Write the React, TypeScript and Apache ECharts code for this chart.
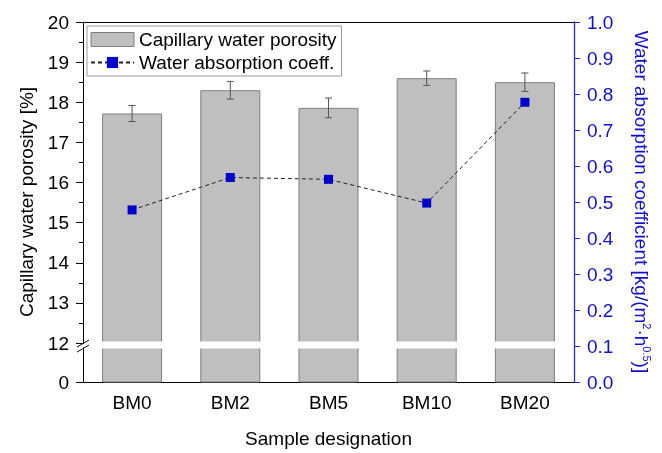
import React, { useEffect, useRef } from "react";
import * as echarts from "echarts";

const categories = ["BM0", "BM2", "BM5", "BM10", "BM20"];
const porosity = [17.72, 18.3, 17.86, 18.6, 18.5];
const porosityErr = [0.2, 0.22, 0.245, 0.18, 0.23];
const absorption = [0.478, 0.568, 0.563, 0.497, 0.777];
const leftTicks = [12, 13, 14, 15, 16, 17, 18, 19, 20];
const leftMinorTicks = [12.5, 13.5, 14.5, 15.5, 16.5, 17.5, 18.5, 19.5];

// Broken left axis: the 0..12 segment is compressed below the break
const BREAK_AT = 12;
const BREAK_SPAN = 0.97; // axis units that the 0..12 segment occupies
const LEFT_MIN = BREAK_AT - BREAK_SPAN;
const LEFT_MAX = 20;

const FONT = "'Liberation Sans', Arial, sans-serif";
const BLUE = "#1010c8";
const FS = 19;

export default function App() {
  const ref = useRef<HTMLDivElement>(null);
  useEffect(() => {
    if (!ref.current) return;
    const chart = echarts.init(ref.current, undefined, { renderer: "svg" });
    const majorVals = [LEFT_MIN, ...leftTicks];
    const option: any = {
      animation: false,
      textStyle: { fontFamily: FONT },
      grid: { left: 83, right: 88, top: 22, bottom: 68 },
      legend: {
        left: 87,
        top: 26,
        orient: "vertical",
        itemGap: 4,
        itemWidth: 43,
        itemHeight: 14,
        padding: [4, 5, 4, 3],
        borderColor: "#999",
        borderWidth: 1,
        backgroundColor: "#fff",
        textStyle: { fontFamily: FONT, fontSize: FS, color: "#000" },
        data: [
          { name: "Capillary water porosity", icon: "rect", itemStyle: { color: "#bfbfbf", borderColor: "#7f7f7f", borderWidth: 1 } },
          { name: "Water absorption coeff." },
        ],
      },
      xAxis: [
        {
          type: "category",
          data: categories,
          axisLine: { lineStyle: { color: "#000", width: 1 } },
          axisTick: { alignWithLabel: true, length: 7, lineStyle: { color: "#000" } },
          axisLabel: { color: "#000", fontSize: FS, margin: 11, fontFamily: FONT },
          name: "Sample designation",
          nameLocation: "middle",
          nameGap: 47,
          nameTextStyle: { color: "#000", fontSize: FS, fontFamily: FONT },
        },
        {
          type: "category",
          data: categories,
          position: "top",
          axisLine: { lineStyle: { color: "#000", width: 1 } },
          axisTick: { show: false },
          axisLabel: { show: false },
        },
      ],
      yAxis: [
        {
          type: "value",
          position: "left",
          min: LEFT_MIN,
          max: LEFT_MAX,
          splitLine: { show: false },
          axisLine: { show: true, lineStyle: { color: "#000", width: 1 } },
          axisTick: { show: true, inside: false, length: 7, customValues: majorVals, lineStyle: { color: "#000" } },
          axisLabel: {
            color: "#000",
            fontSize: FS,
            margin: 14,
            fontFamily: FONT,
            customValues: majorVals,
            formatter: (v: number) => (v < BREAK_AT - 0.5 ? "0" : String(Math.round(v))),
          },
          name: "Capillary water porosity [%]",
          nameLocation: "middle",
          nameGap: 47,
          nameTextStyle: { color: "#000", fontSize: FS, fontFamily: FONT },
        },
        {
          type: "value",
          position: "right",
          min: 0,
          max: 1,
          interval: 0.1,
          splitLine: { show: false },
          axisLine: { show: true, lineStyle: { color: "#2828d8", width: 1.3 } },
          axisTick: { show: true, length: 6, lineStyle: { color: "#2828d8" } },
          axisLabel: {
            color: BLUE,
            fontSize: FS,
            margin: 13,
            fontFamily: FONT,
            formatter: (v: number) => v.toFixed(1),
          },
          name: "Water absorption coefficient [kg/(m{sup|2}·h{sup|0.5})]",
          nameLocation: "middle",
          nameGap: 57,
          nameRotate: -90,
          nameTextStyle: {
            color: BLUE,
            fontSize: FS,
            fontFamily: FONT,
            rich: {
              sup: { fontSize: 11, color: BLUE, fontFamily: FONT, padding: [0, 0, 10, 0] },
            },
          },
        },
        {
          type: "value",
          position: "left",
          min: LEFT_MIN,
          max: LEFT_MAX,
          splitLine: { show: false },
          axisLine: { show: false },
          axisTick: { show: true, length: 4, customValues: leftMinorTicks, lineStyle: { color: "#000" } },
          axisLabel: { show: false },
        },
      ],
      series: [
        {
          name: "Capillary water porosity",
          type: "bar",
          xAxisIndex: 0,
          yAxisIndex: 0,
          barWidth: 60,
          data: porosity,
          itemStyle: { color: "#bfbfbf", borderColor: "#7f7f7f", borderWidth: 1 },
          z: 2,
        },
        {
          name: "errors",
          type: "custom",
          xAxisIndex: 0,
          yAxisIndex: 0,
          data: porosity.map((v, i) => [i, v - porosityErr[i], v + porosityErr[i]]),
          encode: { x: 0, y: [1, 2] },
          z: 3,
          renderItem: (params: any, api: any) => {
            const i = api.value(0);
            const lo = api.coord([i, api.value(1)]);
            const hi = api.coord([i, api.value(2)]);
            const w = 3.5;
            const style = { stroke: "#555", lineWidth: 1 };
            return {
              type: "group",
              children: [
                { type: "line", shape: { x1: lo[0], y1: lo[1], x2: hi[0], y2: hi[1] }, style },
                { type: "line", shape: { x1: hi[0] - w, y1: hi[1], x2: hi[0] + w, y2: hi[1] }, style },
                { type: "line", shape: { x1: lo[0] - w, y1: lo[1], x2: lo[0] + w, y2: lo[1] }, style },
              ],
            };
          },
        },
        {
          name: "Water absorption coeff.",
          type: "line",
          xAxisIndex: 0,
          yAxisIndex: 1,
          data: absorption,
          symbol: "rect",
          symbolSize: 9,
          itemStyle: { color: "#0000cc" },
          lineStyle: { color: "#222", width: 1, type: [4, 3] },
          z: 5,
        },
      ],
    };
    chart.setOption(option);

    const y12 = chart.convertToPixel({ yAxisIndex: 0 }, BREAK_AT) as number;
    const xL = 83;
    const xR = 662 - 88;
    chart.setOption({
      graphic: [
        {
          type: "rect",
          shape: { x: xL + 1, y: y12 - 1.5, width: xR - xL - 2, height: 7 },
          style: { fill: "#fff" },
          z: 100,
        },
        {
          type: "rect",
          shape: { x: xL - 1, y: y12 + 0.5, width: 2, height: 4 },
          style: { fill: "#fff" },
          z: 100,
        },
        {
          type: "line",
          shape: { x1: xL - 6, y1: y12 + 4, x2: xL + 6, y2: y12 - 3 },
          style: { stroke: "#000", lineWidth: 1 },
          z: 101,
        },
        {
          type: "line",
          shape: { x1: xL - 6, y1: y12 + 9, x2: xL + 6, y2: y12 + 2 },
          style: { stroke: "#000", lineWidth: 1 },
          z: 101,
        },
      ],
    });
    return () => chart.dispose();
  }, []);
  return (
    <div
      ref={ref}
      style={{ position: "fixed", left: 0, top: 0, width: 662, height: 453 }}
    />
  );
}
